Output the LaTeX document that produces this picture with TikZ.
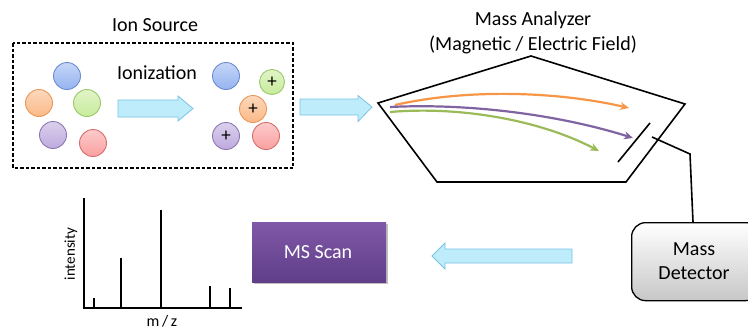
\documentclass[tikz,border=0pt]{standalone}
\usepackage{fontspec}
\setmainfont{Carlito}
\usetikzlibrary{calc,arrows.meta}
\definecolor{arrfill}{RGB}{190,236,250}
\definecolor{arrline}{RGB}{120,195,225}
\definecolor{cblue}{RGB}{150,180,240}\definecolor{cblueD}{RGB}{110,140,210}
\definecolor{corange}{RGB}{250,185,135}\definecolor{corangeD}{RGB}{235,150,90}
\definecolor{cgreen}{RGB}{200,235,155}\definecolor{cgreenD}{RGB}{155,200,105}
\definecolor{cpurple}{RGB}{190,170,222}\definecolor{cpurpleD}{RGB}{140,120,180}
\definecolor{cred}{RGB}{250,160,160}\definecolor{credD}{RGB}{215,110,110}
\definecolor{trOrange}{RGB}{247,150,70}
\definecolor{trPurple}{RGB}{128,100,162}
\definecolor{trGreen}{RGB}{155,187,89}
\definecolor{msTop}{RGB}{128,88,168}\definecolor{msBot}{RGB}{96,62,136}
\tikzset{
  ball/.style={circle,minimum size=27pt,inner sep=0pt,line width=0.9pt,draw=#1D,
    top color=#1!55!white,bottom color=#1,font=\fontsize{19}{19}\selectfont},
  fatarrow/.style={draw=arrline,line width=0.8pt,fill=arrfill},
  traj/.style={line width=2.2pt,-{Stealth[length=9pt,width=8pt]}},
  lbl/.style={font=\fontsize{20}{24}\selectfont,inner sep=0pt,align=center},
  peak/.style={line width=1.3pt},
}
\begin{document}
\begin{tikzpicture}[x=1pt,y=-1pt]
\useasboundingbox (0,0) rectangle (748,330);
\clip (0,0) rectangle (748,330);
% Ion source
\node[lbl] (ionsrc) at (155,25) {Ion Source};
\draw[line width=1.3pt,dash pattern=on 3.5pt off 2pt] (13,43) rectangle (293,168);
\node[lbl] (ioniz) at (157,73) {Ionization};
\node[ball=cblue] (b1) at (67,76) {};
\node[ball=corange] (o1) at (39,103) {};
\node[ball=cgreen] (g1) at (87,103) {};
\node[ball=cpurple] (p1) at (53,135) {};
\node[ball=cred] (r1) at (93,143) {};
\node[ball=cblue] (b2) at (226,76) {};
\node[ball=cgreen,minimum size=25pt] (g2) at (272,82) {+};
\node[ball=corange] (o2) at (253,109) {+};
\node[ball=cpurple] (p2) at (226,136) {+};
\node[ball=cred] (r2) at (266,136) {};
% arrows
\draw[fatarrow] (118,100) -- (178,100) -- (178,96) -- (193,108.5) -- (178,121) -- (178,117) -- (118,117) -- cycle;
\draw[fatarrow] (300,99) -- (358,99) -- (358,95.5) -- (372,107) -- (358,121.5) -- (358,115) -- (300,115) -- cycle;
\draw[fatarrow] (572,249) -- (445,249) -- (445,243) -- (432,256) -- (445,269) -- (445,263) -- (572,263) -- cycle;
% Mass analyzer
\node[lbl] (ma) at (533,20) {Mass Analyzer};
\node[lbl] (mf) at (533,45) {(Magnetic / Electric Field)};
\coordinate (pt) at (531,56);
\coordinate (pr) at (685,104);
\coordinate (pbr) at (626,182);
\coordinate (pbl) at (437,182);
\coordinate (pl) at (378,103);
\draw[line width=1.6pt,line join=miter] (pt) -- (pr) -- (pbr) -- (pbl) -- (pl) -- cycle;
\coordinate (da) at (618,162);
\coordinate (db) at (650,123);
\draw[line width=1.6pt] (da) -- (db);
% trajectories
\draw[traj,trOrange] (395,105) .. controls (470,88) and (560,92) .. (629,108);
\draw[traj,trPurple] (390,107) .. controls (470,103) and (560,115) .. (633,138);
\draw[traj,trGreen] (390,112) .. controls (460,106) and (540,120) .. (599,151);
% detector
\node[draw,line width=1.3pt,rounded corners=14pt,minimum width=128pt,minimum height=78pt,
  top color=white,bottom color=black!22,lbl,anchor=north west] (det) at (631,222) {};
\node[lbl] (dett) at (694,261) {Mass\\Detector};
\coordinate (w1) at (652,137);
\coordinate (w2) at (690,154);
\draw[line width=1.6pt] (w1) -- (w2) -- (693,222);
% MS Scan
\fill[black!25] (254,224) rectangle (388,284);
\node[minimum width=134pt,minimum height=60pt,anchor=north west,top color=msTop,bottom color=msBot,
  text=white,lbl] (ms) at (252,222) {};
\node[lbl,text=white] (mst) at (318,252) {MS Scan};
% spectrum
\coordinate (ax0) at (84,308);
\coordinate (axy) at (84,198);
\coordinate (axx) at (242,308);
\draw[line width=1.3pt] (axy) -- (ax0) -- (axx);
\draw[peak] (94,308) -- (94,298);
\draw[peak] (121,308) -- (121,258);
\draw[peak] (161,308) -- (161,210);
\draw[peak] (210,308) -- (210,286);
\draw[peak] (230,308) -- (230,288);
\node[font=\fontsize{15}{15}\selectfont,rotate=90,inner sep=0pt] (inten) at (71,254) {intensity};
\node[font=\fontsize{16}{16}\selectfont,inner sep=0pt] (mz) at (162,321) {m\,/\,z};
\end{tikzpicture}
\end{document}
